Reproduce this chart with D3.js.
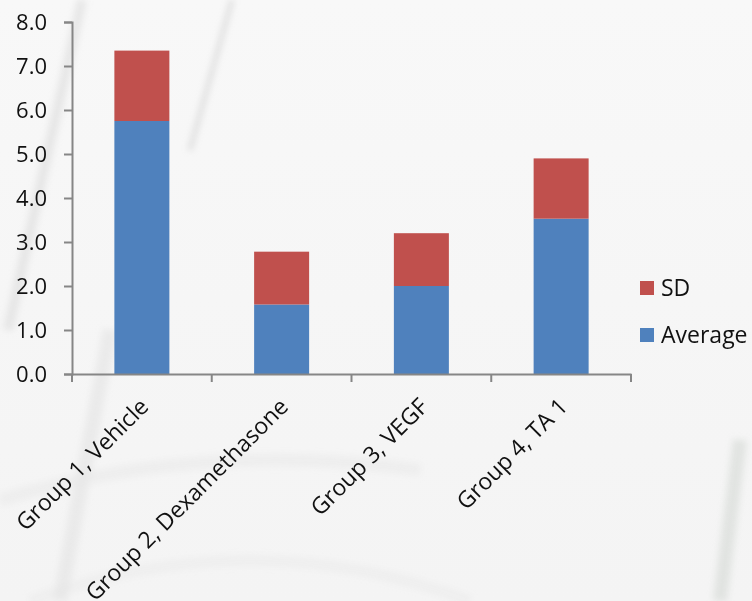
<!DOCTYPE html>
<html>
<head>
<meta charset="utf-8">
<script src="https://cdn.jsdelivr.net/npm/d3@7"></script>
<style>
  html, body { margin: 0; padding: 0; background: #f6f6f6; }
  svg { display: block; }
  text { font-family: "Open Sans", "Noto Sans", sans-serif; fill: #111; }
</style>
</head>
<body>
<svg id="chart" width="752" height="601"></svg>
<script>
// ---- data ----
const categories = ["Group 1, Vehicle", "Group 2, Dexamethasone", "Group 3, VEGF", "Group 4, TA 1"];
const averageValues = [5.75, 1.58, 2.0, 3.53];
const sdValues = [1.6, 1.2, 1.2, 1.37];
const seriesNames = ["Average", "SD"];
const yTickValues = [0, 1, 2, 3, 4, 5, 6, 7, 8];

// ---- setup ----
const W = 752, H = 601;
const margin = { left: 72, right: 121, top: 22, bottom: 227 };
const svg = d3.select("#chart");

// faint background (photo of glassware, approximated)
const defs = svg.append("defs");
const blur = defs.append("filter").attr("id", "blur").attr("x", "-50%").attr("y", "-50%").attr("width", "200%").attr("height", "200%");
blur.append("feGaussianBlur").attr("stdDeviation", 3);
const bgGrad = defs.append("linearGradient").attr("id", "bg").attr("x1", 0).attr("y1", 0).attr("x2", 0).attr("y2", 1);
bgGrad.append("stop").attr("offset", "0%").attr("stop-color", "#f8f8f8");
bgGrad.append("stop").attr("offset", "100%").attr("stop-color", "#f4f4f4");
svg.append("rect").attr("width", W).attr("height", H).attr("fill", "url(#bg)");
const bg = svg.append("g").attr("filter", "url(#blur)").attr("fill", "none");
bg.append("path").attr("d", "M82,0 L8,330").attr("stroke", "#d8d8d8").attr("stroke-width", 10).attr("opacity", 0.5);
bg.append("path").attr("d", "M232,0 L190,150").attr("stroke", "#c4c4c4").attr("stroke-width", 4).attr("opacity", 0.6);
bg.append("path").attr("d", "M110,330 L60,601").attr("stroke", "#e0e0e0").attr("stroke-width", 14).attr("opacity", 0.5);
bg.append("path").attr("d", "M0,500 Q200,440 420,470").attr("stroke", "#e8e8e8").attr("stroke-width", 12).attr("opacity", 0.5);
bg.append("path").attr("d", "M30,601 Q250,520 470,601").attr("stroke", "#e6e6e6").attr("stroke-width", 10).attr("opacity", 0.4);
bg.append("path").attr("d", "M740,440 L720,601").attr("stroke", "#d0d4d0").attr("stroke-width", 14).attr("opacity", 0.5);

const xOuter = d3.scaleBand().domain(categories).range([margin.left, W - margin.right]).padding(0);
const y = d3.scaleLinear().domain([0, 8]).range([H - margin.bottom, margin.top]);
const barWidth = 55;

const colors = { Average: "#4f81bd", SD: "#c0504d" };

// stacked data
const rows = categories.map((c, i) => ({ category: c, Average: averageValues[i], SD: sdValues[i] }));
const stacked = d3.stack().keys(seriesNames)(rows);

svg.append("g").selectAll("g")
  .data(stacked)
  .join("g")
  .attr("fill", d => colors[d.key])
  .selectAll("rect")
  .data(d => d)
  .join("rect")
  .attr("x", d => xOuter(d.data.category) + (xOuter.bandwidth() - barWidth) / 2)
  .attr("width", barWidth)
  .attr("y", d => y(d[1]))
  .attr("height", d => y(d[0]) - y(d[1]));

// y axis
const yAxis = svg.append("g")
  .attr("transform", `translate(${margin.left},0)`)
  .call(d3.axisLeft(y).tickValues(yTickValues).tickFormat(d3.format(".1f")).tickSize(8).tickPadding(17));
yAxis.select(".domain").attr("stroke", "#868686").attr("stroke-width", 2);
yAxis.selectAll(".tick line").attr("stroke", "#868686").attr("stroke-width", 2);
yAxis.selectAll(".tick text").attr("font-size", 22).attr("fill", "#111").attr("font-family", "'Open Sans', sans-serif");

// x axis
const xAxis = svg.append("g")
  .attr("transform", `translate(0,${H - margin.bottom})`)
  .call(d3.axisBottom(xOuter).tickSize(0).tickFormat(""));
xAxis.select(".domain").attr("stroke", "#868686").attr("stroke-width", 2);
const bounds = categories.map(c => xOuter(c)).concat([xOuter(categories[categories.length - 1]) + xOuter.bandwidth()]);
xAxis.selectAll("line.bound")
  .data(bounds)
  .join("line")
  .attr("class", "bound")
  .attr("x1", d => d).attr("x2", d => d)
  .attr("y1", 0).attr("y2", 8)
  .attr("stroke", "#868686").attr("stroke-width", 2);
xAxis.selectAll("text.cat")
  .data(categories)
  .join("text")
  .attr("class", "cat")
  .attr("text-anchor", "end")
  .attr("font-size", 23)
  .attr("transform", d => `translate(${xOuter(d) + xOuter.bandwidth() / 2 + 8},${34}) rotate(-45)`)
  .text(d => d);

// legend
const legend = svg.append("g").attr("transform", "translate(640,281)");
const legendItems = ["SD", "Average"];
const li = legend.selectAll("g").data(legendItems).join("g")
  .attr("transform", (d, i) => `translate(0,${i * 47})`);
li.append("rect").attr("width", 14).attr("height", 14).attr("fill", d => colors[d]);
li.append("text").attr("x", 21).attr("y", 7).attr("dy", "0.35em").attr("font-size", 23).text(d => d);
</script>
</body>
</html>
